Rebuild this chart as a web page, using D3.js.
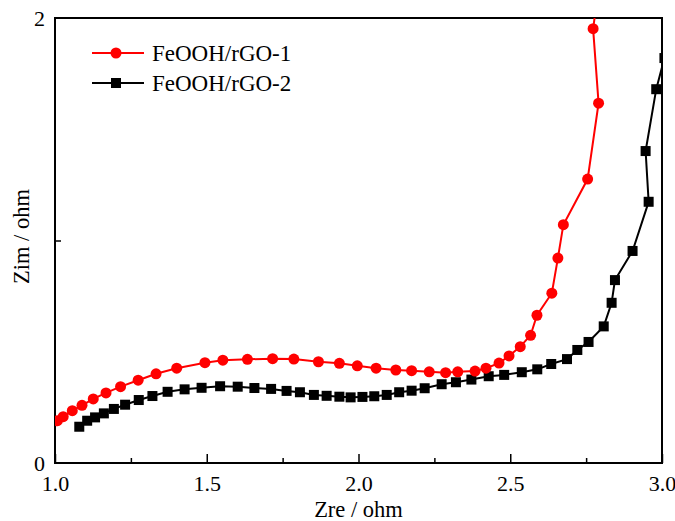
<!DOCTYPE html>
<html><head><meta charset="utf-8">
<script src="https://cdn.jsdelivr.net/npm/d3@7"></script>
<style>
body{margin:0;background:#fff;}
svg text{font-family:"Liberation Serif","Times New Roman",serif;fill:#000;}
</style></head>
<body><svg id="chart" width="675" height="521"></svg>
<script>
const series1Name = "FeOOH/rGO-1";
const series1X = [1.008,1.027,1.057,1.089,1.126,1.168,1.216,1.274,1.333,1.401,1.494,1.553,1.634,1.717,1.787,1.868,1.937,1.996,2.058,2.123,2.175,2.233,2.287,2.327,2.384,2.420,2.463,2.496,2.533,2.567,2.588,2.637,2.657,2.675,2.755,2.791,2.773,2.79];
const series1Y = [0.190,0.208,0.235,0.259,0.288,0.315,0.343,0.372,0.401,0.426,0.451,0.462,0.466,0.469,0.467,0.455,0.448,0.437,0.426,0.418,0.415,0.410,0.406,0.410,0.413,0.426,0.449,0.481,0.523,0.574,0.664,0.763,0.921,1.071,1.276,1.617,1.952,2.12];
const series2Name = "FeOOH/rGO-2";
const series2X = [1.080,1.106,1.132,1.161,1.194,1.231,1.276,1.321,1.371,1.427,1.483,1.544,1.602,1.657,1.712,1.763,1.807,1.853,1.895,1.937,1.974,2.013,2.052,2.093,2.134,2.175,2.218,2.274,2.321,2.372,2.429,2.480,2.538,2.589,2.635,2.687,2.721,2.758,2.808,2.834,2.845,2.903,2.956,2.946,2.981,3.008];
const series2Y = [0.163,0.190,0.205,0.223,0.243,0.262,0.283,0.301,0.320,0.331,0.338,0.345,0.343,0.337,0.333,0.324,0.318,0.306,0.302,0.298,0.295,0.297,0.300,0.306,0.318,0.325,0.336,0.354,0.363,0.375,0.390,0.396,0.408,0.421,0.445,0.467,0.508,0.544,0.614,0.720,0.822,0.953,1.174,1.402,1.680,1.82];
const xMajorTicks = [1.0,1.5,2.0,2.5,3.0];
const xMinorTicks = [1.25,1.75,2.25,2.75];
const yMajorTicks = [0,2];
const yMinorTicks = [1];
const xTitle = "Zre / ohm";
const yTitle = "Zim / ohm";

const svg = d3.select("#chart");
const L=55, R=662, T=18, B=463;
const x = d3.scaleLinear().domain([1,3]).range([L,R]);
const y = d3.scaleLinear().domain([0,2]).range([B,T]);

svg.append("defs").append("clipPath").attr("id","clip")
  .append("rect").attr("x",L).attr("y",T).attr("width",R-L).attr("height",B-T);

// axes
const gx = svg.append("g").attr("transform",`translate(0,${B})`)
  .call(d3.axisBottom(x).tickValues(xMajorTicks).tickFormat(d3.format(".1f")).tickSizeInner(-9).tickSizeOuter(0).tickPadding(12));
gx.select(".domain").remove();
gx.selectAll(".tick line").attr("stroke","#000").attr("stroke-width",1.5);
gx.selectAll("text").attr("font-size",22);
const gxm = svg.append("g").attr("transform",`translate(0,${B})`)
  .call(d3.axisBottom(x).tickValues(xMinorTicks).tickFormat("").tickSizeInner(-5).tickSizeOuter(0));
gxm.select(".domain").remove();
gxm.selectAll(".tick line").attr("stroke","#000").attr("stroke-width",1.5);

const gy = svg.append("g").attr("transform",`translate(${L},0)`)
  .call(d3.axisLeft(y).tickValues(yMajorTicks).tickFormat(d3.format("d")).tickSizeInner(0).tickSizeOuter(0).tickPadding(10));
gy.select(".domain").remove();
gy.selectAll("text").attr("font-size",22);
const gym = svg.append("g").attr("transform",`translate(${L},0)`)
  .call(d3.axisLeft(y).tickValues(yMinorTicks).tickFormat("").tickSizeInner(-6).tickSizeOuter(0));
gym.select(".domain").remove();
gym.selectAll(".tick line").attr("stroke","#000").attr("stroke-width",1.5);

svg.append("rect").attr("x",L).attr("y",T).attr("width",R-L).attr("height",B-T)
  .attr("fill","none").attr("stroke","#000").attr("stroke-width",2);

// titles
svg.append("text").attr("x",(L+R)/2).attr("y",517).attr("text-anchor","middle").attr("font-size",22.5).text(xTitle);
svg.append("text").attr("transform",`translate(29,${(T+B)/2-4}) rotate(-90)`).attr("text-anchor","middle").attr("font-size",22.5).text(yTitle);

// data
const d1 = series1X.map((v,i)=>[v,series1Y[i]]);
const d2 = series2X.map((v,i)=>[v,series2Y[i]]);
const line = d3.line().x(d=>x(d[0])).y(d=>y(d[1]));
const plot = svg.append("g").attr("clip-path","url(#clip)");

plot.append("path").datum(d2).attr("d",line).attr("fill","none").attr("stroke","#000").attr("stroke-width",2);
plot.selectAll("rect.m2").data(d2).enter().append("rect").attr("class","m2")
  .attr("x",d=>x(d[0])-5).attr("y",d=>y(d[1])-5).attr("width",10).attr("height",10).attr("fill","#000");

plot.append("path").datum(d1).attr("d",line).attr("fill","none").attr("stroke","#ff0000").attr("stroke-width",2);
plot.selectAll("circle.m1").data(d1).enter().append("circle").attr("class","m1")
  .attr("cx",d=>x(d[0])).attr("cy",d=>y(d[1])).attr("r",5.5).attr("fill","#ff0000");

// legend
const leg = svg.append("g");
[[series1Name,"#ff0000","circle",53],[series2Name,"#000","square",83]].forEach(([name,col,shape,ly])=>{
  leg.append("line").attr("x1",92).attr("x2",144).attr("y1",ly).attr("y2",ly).attr("stroke",col).attr("stroke-width",2);
  if(shape==="circle") leg.append("circle").attr("cx",116).attr("cy",ly).attr("r",5.5).attr("fill",col);
  else leg.append("rect").attr("x",111).attr("y",ly-5).attr("width",10).attr("height",10).attr("fill",col);
  leg.append("text").attr("x",152).attr("y",ly+8).attr("font-size",23).text(name);
});
</script></body></html>
